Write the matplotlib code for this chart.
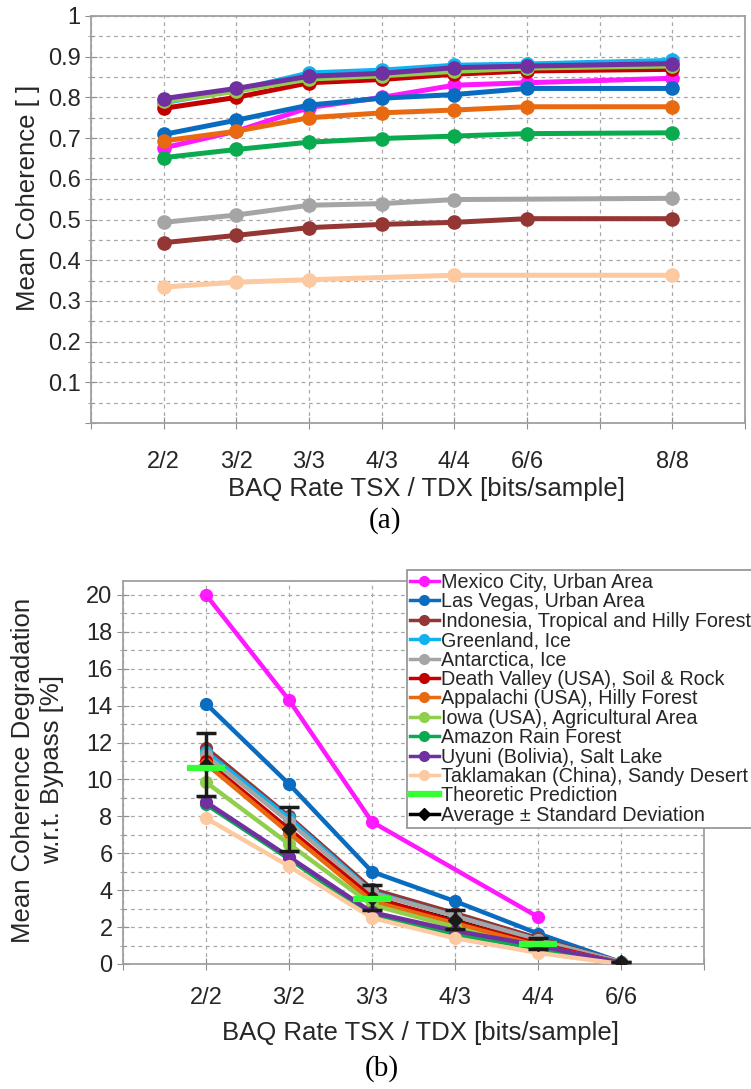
import numpy as np
import matplotlib
matplotlib.use("Agg")
import matplotlib.pyplot as plt
from matplotlib.lines import Line2D
from matplotlib.ticker import MultipleLocator

plt.rcParams['font.family'] = ['Liberation Sans', 'DejaVu Sans']

# ---- data -------------------------------------------------------------
sites = ['Mexico City, Urban Area', 'Las Vegas, Urban Area',
         'Indonesia, Tropical and Hilly Forest', 'Greenland, Ice',
         'Antarctica, Ice', 'Death Valley (USA), Soil & Rock',
         'Appalachi (USA), Hilly Forest', 'Iowa (USA), Agricultural Area',
         'Amazon Rain Forest', 'Uyuni (Bolivia), Salt Lake',
         'Taklamakan (China), Sandy Desert']
colors = ['#ff19ff', '#0a6cc0', '#933634', '#12b2ee', '#a5a5a5', '#c40000',
          '#e8690f', '#8fcf4c', '#0aaa4f', '#7030a0', '#fcc9a0']

# (a) mean coherence, rates 2/2 3/2 3/3 4/3 4/4 6/6 8/8
rates_a = ['2/2', '3/2', '3/3', '4/3', '4/4', '6/6', '8/8']
coh_mexico = [0.676, 0.717, 0.775, 0.800, 0.830, 0.836, 0.847]
coh_vegas = [0.709, 0.744, 0.781, 0.798, 0.807, 0.822, 0.822]
coh_indonesia = [0.443, 0.461, 0.480, 0.488, 0.493, 0.502, 0.502]
coh_greenland = [0.787, 0.818, 0.860, 0.867, 0.879, 0.882, 0.891]
coh_antarctica = [0.493, 0.511, 0.535, 0.539, 0.549, None, 0.552]
coh_deathvalley = [0.773, 0.800, 0.836, 0.844, 0.857, 0.865, 0.869]
coh_appalachi = [0.693, 0.717, 0.750, 0.762, 0.769, 0.777, 0.777]
coh_iowa = [0.790, 0.815, 0.845, 0.853, 0.864, 0.872, 0.877]
coh_amazon = [0.652, 0.672, 0.690, 0.699, 0.705, 0.711, 0.713]
coh_uyuni = [0.797, 0.822, 0.852, 0.859, 0.873, 0.877, 0.883]
coh_taklamakan = [0.334, 0.346, 0.352, None, 0.363, None, 0.363]

# (b) coherence degradation [%], rates 2/2 3/2 3/3 4/3 4/4 6/6
rates_b = ['2/2', '3/2', '3/3', '4/3', '4/4', '6/6']
deg_mexico = [20.0, 14.3, 7.7, None, 2.55, None]
deg_vegas = [14.1, 9.75, 5.0, 3.4, 1.65, 0.1]
deg_indonesia = [11.7, 8.0, 4.05, 2.75, 1.4, 0.1]
deg_greenland = [11.5, 7.9, 3.9, 2.6, 1.3, 0.1]
deg_antarctica = [11.3, 7.7, 3.85, 2.6, 1.3, 0.1]
deg_deathvalley = [11.0, 7.3, 3.6, 2.3, 1.1, 0.05]
deg_appalachi = [10.85, 7.1, 3.4, 2.2, 1.0, 0.05]
deg_iowa = [9.85, 6.5, 3.2, 2.0, 0.7, 0.05]
deg_amazon = [8.65, 5.7, 2.6, 1.6, 0.85, 0.05]
deg_uyuni = [8.77, 5.8, 2.8, 1.8, 1.0, 0.05]
deg_taklamakan = [7.9, 5.3, 2.5, 1.4, 0.6, 0.0]
theory_rates = ['2/2', '3/3', '4/4']
theory_deg = [10.6, 3.5, 1.06]
avg_deg = [10.8, 7.3, 3.6, 2.4, 1.1, 0.1]
std_deg = [1.7, 1.2, 0.67, 0.52, 0.29, 0.0]

coh_all = [coh_mexico, coh_vegas, coh_indonesia, coh_greenland, coh_antarctica,
           coh_deathvalley, coh_appalachi, coh_iowa, coh_amazon, coh_uyuni,
           coh_taklamakan]
deg_all = [deg_mexico, deg_vegas, deg_indonesia, deg_greenland, deg_antarctica,
           deg_deathvalley, deg_appalachi, deg_iowa, deg_amazon, deg_uyuni,
           deg_taklamakan]

# axis layout: (a) has an empty slot before 8/8
xpos_a = [1, 2, 3, 4, 5, 6, 8]
xpos_b = [1, 2, 3, 4, 5, 6]

txt = '#262626'
gridc = '#a8a8a8'

fig = plt.figure(figsize=(7.51, 10.89), dpi=100)


def style_axes(ax):
    for s in ax.spines.values():
        s.set_color('#a0a0a0')
        s.set_linewidth(1.3)
    ax.grid(which='major', axis='both', color=gridc, linestyle=(0, (3, 3)), linewidth=0.9)
    ax.grid(which='minor', axis='y', color=gridc, linestyle=(0, (3, 3)), linewidth=0.9)
    ax.tick_params(which='both', direction='inout', color='#909090', labelcolor=txt)
    ax.tick_params(which='major', length=9, labelsize=17)
    ax.tick_params(which='minor', length=5)
    ax.tick_params(axis='y', pad=3)
    ax.set_axisbelow(True)


def valid(xs, ys):
    pts = [(x, y) for x, y in zip(xs, ys) if y is not None]
    return [p[0] for p in pts], [p[1] for p in pts]


# ---- (a) -----------------------------------------------------------------
ax1 = fig.add_axes([91 / 751, 1 - 423 / 1089, (745 - 91) / 751, (423 - 16) / 1089])
for ys, c in zip(coh_all, colors):
    xs, yv = valid(xpos_a, ys)
    ax1.plot(xs, yv, color=c, lw=3.6, marker='o', ms=9.5)
ax1.set_xlim(0, 9)
ax1.set_ylim(0, 1)
ax1.set_xticks(range(0, 10))
lab_a = [''] * 10
for p, r in zip(xpos_a, rates_a):
    lab_a[p] = r
ax1.set_xticklabels(lab_a)
ax1.yaxis.set_major_locator(MultipleLocator(0.1))
ax1.yaxis.set_minor_locator(MultipleLocator(0.05))
ax1.set_yticks(np.arange(0, 1.01, 0.1))
ax1.set_yticklabels([''] + ['%.1f' % v for v in np.arange(0.1, 0.95, 0.1)] + ['1'])
style_axes(ax1)
ax1.tick_params(axis='x', pad=16)

fig.text(28 / 751, 1 - 198 / 1089, 'Mean Coherence [ ]', rotation=90, ha='center',
         va='center', fontsize=18.5, color=txt)
fig.text(426 / 751, 1 - 489 / 1089, 'BAQ Rate TSX / TDX [bits/sample]', ha='center',
         va='center', fontsize=18.5, color=txt)
fig.text(385 / 751, 1 - 521 / 1089, '(a)', ha='center', va='center', fontsize=21,
         family='Liberation Serif', color='black')

# ---- (b) -----------------------------------------------------------------
ax2 = fig.add_axes([123 / 751, 1 - 964 / 1089, (704 - 123) / 751, (964 - 581) / 1089])
handles = []
for name, ys, c in zip(sites, deg_all, colors):
    xs, yv = valid(xpos_b, ys)
    ax2.plot(xs, yv, color=c, lw=3.2, marker='o', ms=8.5, zorder=3)
    handles.append(Line2D([], [], color=c, lw=2.5, marker='o', ms=7, label=name))

ax2.plot(xpos_b, avg_deg, color='black', lw=2, zorder=2)
ax2.errorbar(xpos_b, avg_deg, yerr=std_deg, fmt='D', color='#1a1a1a', ms=7,
             elinewidth=2.5, capsize=7, capthick=2.5, zorder=5)
theory_x = [xpos_b[rates_b.index(r)] for r in theory_rates]
ax2.plot(theory_x, theory_deg, linestyle='none', marker='_', ms=27, mew=4.5,
         color='#33ff33', zorder=6)
handles.append(Line2D([], [], color='#33ff33', lw=4.5, label='Theoretic Prediction'))
handles.append(Line2D([], [], color='black', lw=2.5, marker='D', ms=6,
                      label='Average \u00b1 Standard Deviation'))

ax2.set_xlim(0, 7)
ax2.set_ylim(0, 20.75)
ax2.set_xticks(range(0, 8))
ax2.set_xticklabels([''] + rates_b + [''])
ax2.yaxis.set_major_locator(MultipleLocator(2))
ax2.yaxis.set_minor_locator(MultipleLocator(1))
style_axes(ax2)
ax2.tick_params(axis='x', pad=12)

fig.text(23 / 751, 1 - 770 / 1089, 'Mean Coherence Degradation', rotation=90,
         ha='center', va='center', fontsize=18.5, color=txt)
fig.text(52 / 751, 1 - 770 / 1089, 'w.r.t. Bypass [%]', rotation=90,
         ha='center', va='center', fontsize=18.5, color=txt)
fig.text(420 / 751, 1 - 1033 / 1089, 'BAQ Rate TSX / TDX [bits/sample]', ha='center',
         va='center', fontsize=18.5, color=txt)
fig.text(382 / 751, 1 - 1069 / 1089, '(b)', ha='center', va='center', fontsize=21,
         family='Liberation Serif', color='black')

leg = fig.legend(handles=handles, loc='upper left',
                 bbox_to_anchor=(407 / 751, 1 - 570 / 1089), fontsize=14.2,
                 frameon=True, fancybox=False, framealpha=1, edgecolor='#909090',
                 handlelength=1.45, handletextpad=0.1, labelspacing=0.02,
                 borderpad=0.15, borderaxespad=0)
for t in leg.get_texts():
    t.set_color(txt)
leg.get_frame().set_linewidth(1.2)

fig.savefig('out.png', dpi=100)
